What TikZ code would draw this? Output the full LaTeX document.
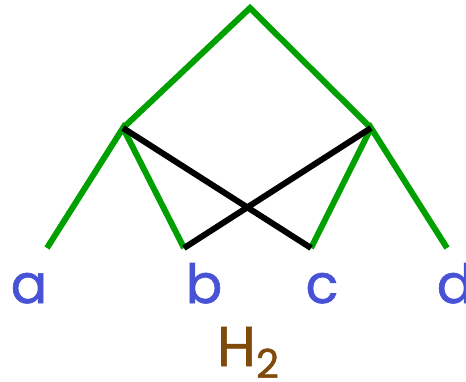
\documentclass[tikz,border=0pt]{standalone}
\usepackage{fontspec}
\setmainfont{Poppins}
\newfontfamily\lblfont[FakeBold=1.2]{Poppins}
\definecolor{edgegreen}{RGB}{0,160,0}
\definecolor{lblblue}{RGB}{72,82,214}
\definecolor{lblbrown}{RGB}{128,74,10}
\begin{document}
\begin{tikzpicture}[x=1pt,y=-1pt,
  gedge/.style={edgegreen,line width=6pt},
  kedge/.style={black,line width=6pt},
  lbl/.style={text=lblblue,font=\lblfont\fontsize{54}{54}\selectfont,anchor=base,inner sep=0pt},
  hlbl/.style={text=lblbrown,font=\lblfont\fontsize{56}{56}\selectfont,anchor=base west,inner sep=0pt}]
\useasboundingbox (0,0) rectangle (466,382);
\coordinate (top) at (250,8);
\coordinate (L) at (123,128);
\coordinate (R) at (371,128);
\coordinate (a) at (47,248);
\coordinate (b) at (184,248);
\coordinate (c) at (311,248);
\coordinate (d) at (447,248);
\draw[gedge] (L) -- (top) -- (R);
\draw[gedge] (a) -- (L) -- (b);
\draw[gedge] (c) -- (R) -- (d);
\draw[kedge] (L) -- (c);
\draw[kedge] (R) -- (b);
\node[lbl] (la) at (29,303) {a};
\node[lbl] (lb) at (204,303) {b};
\node[lbl] (lc) at (322,303) {c};
\node[lbl] (ld) at (455,303) {d};
\node[hlbl] (h2) at (217,366) {H\raisebox{-12pt}{\fontsize{40}{40}\selectfont 2}};
\end{tikzpicture}
\end{document}
